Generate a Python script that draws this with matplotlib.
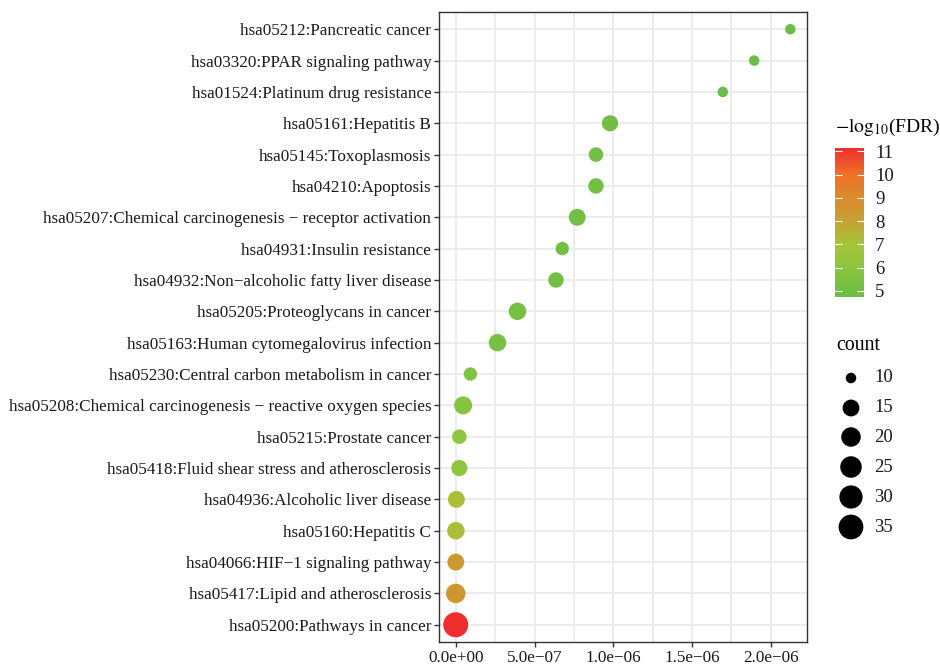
import numpy as np
import matplotlib
matplotlib.use("Agg")
import matplotlib.pyplot as plt
from matplotlib.colors import LinearSegmentedColormap, Normalize
from matplotlib.cm import ScalarMappable

plt.rcParams['font.family'] = ['Liberation Serif', 'DejaVu Serif']
plt.rcParams['mathtext.fontset'] = 'stix'

# KEGG terms, listed top to bottom as in the chart
terms = [
    "hsa05212:Pancreatic cancer",
    "hsa03320:PPAR signaling pathway",
    "hsa01524:Platinum drug resistance",
    "hsa05161:Hepatitis B",
    "hsa05145:Toxoplasmosis",
    "hsa04210:Apoptosis",
    "hsa05207:Chemical carcinogenesis \u2212 receptor activation",
    "hsa04931:Insulin resistance",
    "hsa04932:Non\u2212alcoholic fatty liver disease",
    "hsa05205:Proteoglycans in cancer",
    "hsa05163:Human cytomegalovirus infection",
    "hsa05230:Central carbon metabolism in cancer",
    "hsa05208:Chemical carcinogenesis \u2212 reactive oxygen species",
    "hsa05215:Prostate cancer",
    "hsa05418:Fluid shear stress and atherosclerosis",
    "hsa04936:Alcoholic liver disease",
    "hsa05160:Hepatitis C",
    "hsa04066:HIF\u22121 signaling pathway",
    "hsa05417:Lipid and atherosclerosis",
    "hsa05200:Pathways in cancer",
]
pvalue = [2.123e-6, 1.894e-6, 1.695e-6, 0.979e-6, 0.890e-6, 0.890e-6, 0.771e-6,
          0.676e-6, 0.636e-6, 0.392e-6, 0.265e-6, 0.093e-6, 0.047e-6, 0.023e-6,
          0.023e-6, 0.004e-6, 0.001e-6, 0.0005e-6, 0.0002e-6, 1e-13]
counts = [10, 10, 10, 14, 12, 13, 15, 11, 13, 16, 16, 11, 17, 12, 14, 15, 16, 15, 20, 36]
neglog_fdr = [4.74, 4.77, 4.79, 5.00, 5.02, 5.02, 5.02, 5.05, 5.05, 5.20, 5.34, 5.60,
              5.80, 6.10, 6.10, 7.20, 7.20, 8.40, 8.50, 11.15]
size_breaks = [10, 15, 20, 25, 30, 35]
color_ticks = [5, 6, 7, 8, 9, 10, 11]

# colour stops (value, colour)
grad_vals = [4.74, 6, 7, 8, 9, 10, 11.15]
grad_cols = ["#6ABD45", "#8BC43F", "#A6C43A", "#C3A233", "#DA8B2D", "#EE7228", "#EE2E2E"]

W, H, DPI = 940, 665, 100

vmin, vmax = min(neglog_fdr), max(neglog_fdr)
norm = Normalize(vmin=vmin, vmax=vmax)
cmap = LinearSegmentedColormap.from_list(
    "fdr", [((v - vmin) / (vmax - vmin), c) for v, c in zip(grad_vals, grad_cols)])

cmin, cmax = min(counts), max(counts)


def dot_size(c):
    # diameter in px grows with sqrt of the rescaled count, like ggplot's scale_size
    d = 10.5 + 14.5 * np.sqrt((np.asarray(c, float) - cmin) / (cmax - cmin))
    return (d * 72 / DPI) ** 2


fig = plt.figure(figsize=(W / DPI, H / DPI), dpi=DPI)
ax = fig.add_axes([439 / W, 1 - 642 / H, (807 - 439) / W, (642 - 12) / H])

n = len(terms)
ypos = np.arange(n)[::-1]
ax.scatter(pvalue, ypos, s=dot_size(counts), c=neglog_fdr, cmap=cmap, norm=norm,
           linewidths=0, zorder=3)

xmax = max(pvalue)
ax.set_xlim(-0.05 * xmax, 1.05 * xmax)
ax.set_ylim(-0.55, n - 0.45)
ax.set_yticks(ypos)
ax.set_yticklabels(terms)
xt = [0, 5e-7, 1e-6, 1.5e-6, 2e-6]
ax.set_xticks(xt)
ax.set_xticklabels([("%.1e" % v).replace("-", "\u2212") for v in xt])
ax.set_xticks([2.5e-7, 7.5e-7, 1.25e-6, 1.75e-6], minor=True)
ax.grid(True, which='both', color='#EBEBEB', lw=1.3, zorder=0)
ax.set_axisbelow(True)
ax.tick_params(axis='both', which='major', length=3.5, width=1, color='#333333',
               labelsize=12.3, labelcolor='#1a1a1a', pad=2)
ax.tick_params(axis='x', which='minor', length=0)
for sp in ax.spines.values():
    sp.set_color('#333333')
    sp.set_linewidth(1)

# colour legend
fig.text(835 / W, 1 - 127 / H, r'$-\mathrm{log}_{10}$(FDR)', fontsize=14, va='center', ha='left')
cax = fig.add_axes([835 / W, 1 - 297 / H, 29 / W, 149 / H])
cb = fig.colorbar(ScalarMappable(norm=norm, cmap=cmap), cax=cax, ticks=color_ticks)
cb.outline.set_visible(False)
cax.tick_params(which='major', left=True, right=True, direction='in', length=5,
                width=0.8, color='white', labelsize=13.5, labelcolor='#1a1a1a', pad=8)

# size legend
fig.text(836 / W, 1 - 345 / H, 'count', fontsize=14.3, va='center', ha='left')
lax = fig.add_axes([0, 0, 1, 1])
lax.set_xlim(0, W)
lax.set_ylim(H, 0)
lax.axis('off')
leg_y = [378, 408, 437, 467, 497, 527]
lax.scatter([851] * len(size_breaks), leg_y, s=dot_size(size_breaks), c='black', linewidths=0)
for b, yy in zip(size_breaks, leg_y):
    lax.text(874, yy, str(b), fontsize=13.5, color='#1a1a1a', va='center', ha='left')

fig.savefig("out.png", dpi=DPI)
